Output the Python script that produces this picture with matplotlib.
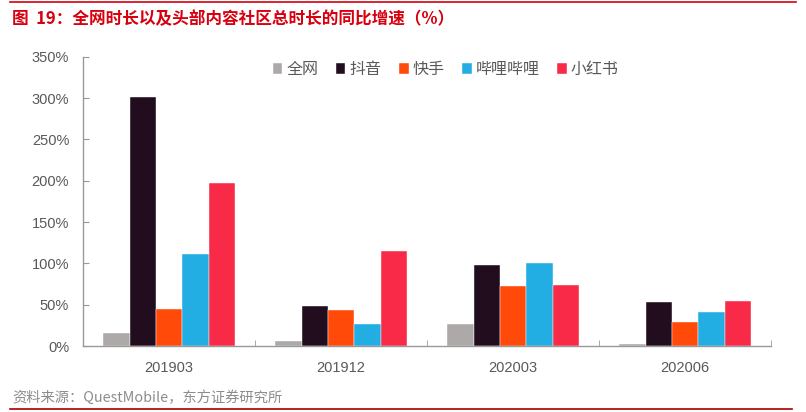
import matplotlib
matplotlib.use("Agg")
import matplotlib.pyplot as plt
import numpy as np
from matplotlib.lines import Line2D

plt.rcParams['font.family'] = ['Noto Sans CJK SC', 'DejaVu Sans']

# data
periods = ["201903", "201912", "202003", "202006"]
series = ["全网", "抖音", "快手", "哔哩哔哩", "小红书"]
quanwang = [16, 6, 27, 3]
douyin = [302, 49, 98, 53]
kuaishou = [45, 44, 73, 29]
bilibili = [111, 27, 100, 41]
xiaohongshu = [197, 115, 74, 55]
colors = ["#ADA9A9", "#210D1D", "#FF4A0A", "#22ADE3", "#F92A47"]
yticks = [0, 50, 100, 150, 200, 250, 300, 350]

values = [quanwang, douyin, kuaishou, bilibili, xiaohongshu]

fig = plt.figure(figsize=(8.06, 4.12), dpi=100)
ax = fig.add_axes([0.103, 0.160, 0.854, 0.702])

x = np.arange(len(periods))
width = 0.153
for i, (name, vals) in enumerate(zip(series, values)):
    ax.bar(x + (i - 2) * width, vals, width, color=colors[i], label=name,
           edgecolor="white", linewidth=0.3)

ax.set_xlim(-0.5, len(periods) - 0.5)
ax.set_ylim(0, 350)
ax.set_yticks(yticks)
ax.set_yticklabels([f"{v}%" for v in yticks], fontsize=10.5, color="#595959",
                   family=['Liberation Sans', 'DejaVu Sans'])
ax.set_xticks(x)
ax.set_xticklabels(periods, fontsize=10.5, color="#595959",
                   family=['Liberation Sans', 'DejaVu Sans'])
ax.tick_params(axis="x", length=0, pad=11)
ax.tick_params(axis="y", direction="in", length=4, color="#999999", pad=10)

# group separators on the x axis
ax.set_xticks(np.arange(len(periods) + 1) - 0.5, minor=True)
ax.tick_params(axis="x", which="minor", direction="in", length=4, color="#999999")

for s in ["top", "right"]:
    ax.spines[s].set_visible(False)
for s in ["left", "bottom"]:
    ax.spines[s].set_color("#999999")
    ax.spines[s].set_linewidth(1)

leg = ax.legend(loc="upper center", bbox_to_anchor=(0.527, 1.035), ncol=5,
                frameon=False, fontsize=11.5, handlelength=0.6, handleheight=0.6,
                handletextpad=0.25, columnspacing=1.1)
for t in leg.get_texts():
    t.set_color("#595959")

# title, source and rule lines
fig.text(0.015, 0.953, "图  19：全网时长以及头部内容社区总时长的同比增速（%）",
         fontsize=12, fontweight="bold", color="#D7000F", va="center")
fig.text(0.015, 0.034, "资料来源：QuestMobile，东方证券研究所",
         fontsize=10.3, color="#8C8C8C", va="center")
fig.add_artist(Line2D([0.012, 0.987], [0.994, 0.994], color="#D7000F", lw=1.2))
fig.add_artist(Line2D([0.012, 0.983], [0.007, 0.007], color="#A50000", lw=1.2))

fig.savefig("out.png", dpi=100)
